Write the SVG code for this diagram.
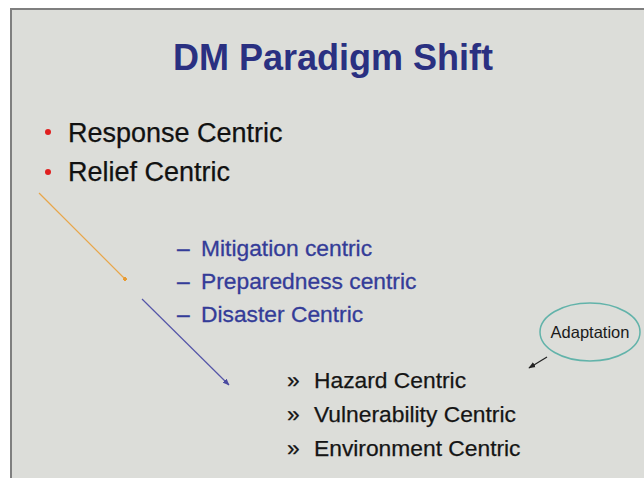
<svg xmlns="http://www.w3.org/2000/svg" width="644" height="478" viewBox="0 0 644 478">
<style>
.t{font-family:"Liberation Sans",Arial,sans-serif}
.l1{font-size:27px;fill:#111;stroke:#111;stroke-width:0.25}
.l2{font-size:22.8px;fill:#343c98;stroke:#343c98;stroke-width:0.3}
.l3{font-size:22.8px;fill:#151515;stroke:#151515;stroke-width:0.25}
</style>
<defs>
<marker id="ah" viewBox="0 0 10 10" refX="9" refY="5" markerWidth="7" markerHeight="7" orient="auto" markerUnits="userSpaceOnUse"><path d="M0,1 L10,5 L0,9 z" fill="#4a4aa0"/></marker>
<marker id="ahk" viewBox="0 0 10 10" refX="9" refY="5" markerWidth="7" markerHeight="7" orient="auto" markerUnits="userSpaceOnUse"><path d="M0,1 L10,5 L0,9 z" fill="#222"/></marker>
<marker id="sq" viewBox="0 0 10 10" refX="5" refY="5" markerWidth="4" markerHeight="4" orient="auto" markerUnits="userSpaceOnUse"><rect width="10" height="10" fill="#e89a30"/></marker>
</defs>
<rect width="644" height="478" fill="#ffffff"/>
<rect x="11" y="9" width="640" height="480" fill="#dcddd9" stroke="#7f7f7f" stroke-width="2"/>
<g id="title"><text class="t" x="333" y="70" text-anchor="middle" font-size="36" font-weight="bold" fill="#2a3081">DM Paradigm Shift</text></g>
<g id="response"><circle cx="48" cy="132" r="3" fill="#e02020"/><text class="t l1" x="68" y="142">Response Centric</text></g>
<g id="relief"><circle cx="48" cy="172" r="3" fill="#e02020"/><text class="t l1" x="68" y="181">Relief Centric</text></g>
<g id="mitigation"><text class="t l2" x="177" y="256">–</text><text class="t l2" x="201" y="256">Mitigation centric</text></g>
<g id="preparedness"><text class="t l2" x="177" y="289">–</text><text class="t l2" x="201" y="289">Preparedness centric</text></g>
<g id="disaster"><text class="t l2" x="177" y="322">–</text><text class="t l2" x="201" y="322">Disaster Centric</text></g>
<g id="hazard"><text class="t l3" x="287" y="388">»</text><text class="t l3" x="314" y="388">Hazard Centric</text></g>
<g id="vulnerability"><text class="t l3" x="287" y="422">»</text><text class="t l3" x="314" y="422">Vulnerability Centric</text></g>
<g id="environment"><text class="t l3" x="287" y="456">»</text><text class="t l3" x="314" y="456">Environment Centric</text></g>
<g id="adaptation"><ellipse cx="590" cy="332" rx="50" ry="29" fill="none" stroke="#62b3aa" stroke-width="1.5"/><text class="t" x="590" y="338" text-anchor="middle" font-size="16.5" fill="#1a1a1a">Adaptation</text></g>
<g id="connectors">
<line x1="39" y1="193" x2="125" y2="279" stroke="#e8a64a" stroke-width="1.2" marker-end="url(#sq)"/>
<line x1="142" y1="299" x2="229" y2="385" stroke="#5555a8" stroke-width="1.2" marker-end="url(#ah)"/>
<line x1="547" y1="357" x2="529" y2="368" stroke="#222" stroke-width="1.2" marker-end="url(#ahk)"/>
</g>
</svg>
